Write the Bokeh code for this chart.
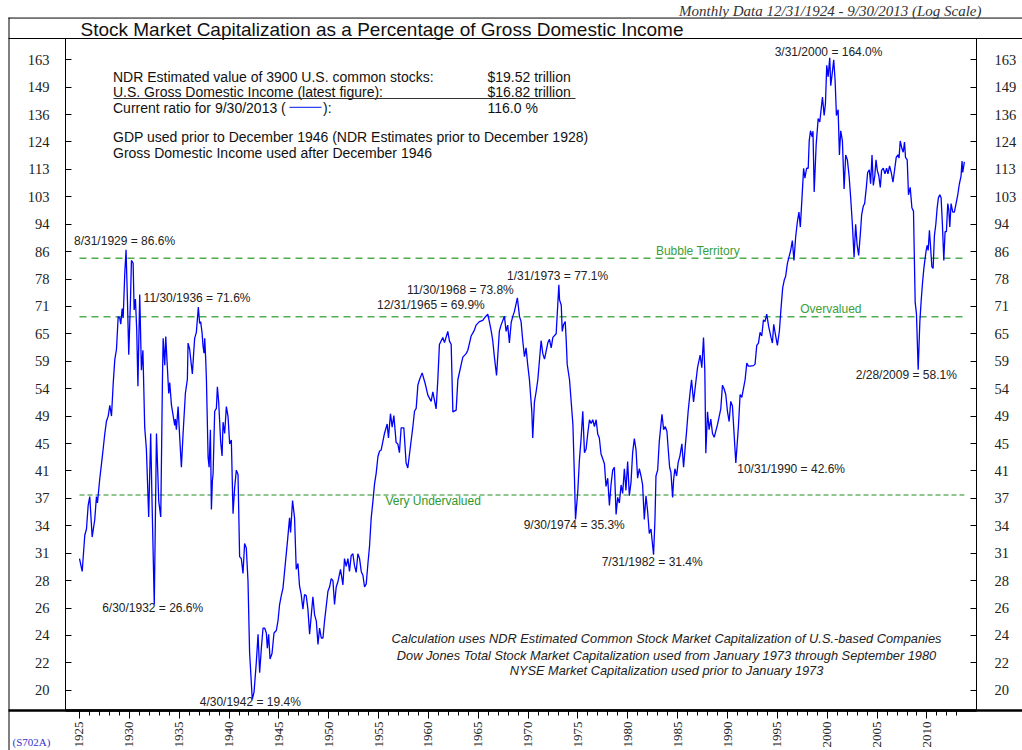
import math
from bokeh.plotting import figure
from bokeh.models import Range1d, LogAxis, FixedTicker, Label, BoxAnnotation, ColumnDataSource
from bokeh.core.properties import value
from bokeh.embed import file_html
from bokeh.resources import INLINE

# ---------------- data ----------------
dates = [
    1925.00, 1925.27, 1925.53, 1925.70, 1925.87, 1926.03, 1926.27, 1926.53, 1926.70, 1926.80,
    1927.03, 1927.20, 1927.37, 1927.54, 1927.71, 1927.88, 1928.04, 1928.21, 1928.38, 1928.54,
    1928.71, 1928.88, 1929.04, 1929.14, 1929.28, 1929.38, 1929.54, 1929.67, 1929.81, 1929.94,
    1930.11, 1930.21, 1930.38, 1930.48, 1930.61, 1930.74, 1930.86, 1931.04, 1931.21, 1931.36,
    1931.54, 1931.71, 1931.94, 1932.14, 1932.28, 1932.50, 1932.72, 1932.95, 1933.15, 1933.32,
    1933.39, 1933.55, 1933.65, 1933.82, 1933.95, 1934.05, 1934.22, 1934.55, 1934.62, 1934.72,
    1934.89, 1935.05, 1935.22, 1935.39, 1935.62, 1935.82, 1935.89, 1936.05, 1936.22, 1936.32,
    1936.45, 1936.55, 1936.72, 1936.92, 1937.05, 1937.15, 1937.29, 1937.39, 1937.49, 1937.56,
    1937.66, 1937.73, 1937.90, 1938.00, 1938.13, 1938.23, 1938.33, 1938.40, 1938.56, 1938.73,
    1938.83, 1938.96, 1939.16, 1939.30, 1939.40, 1939.56, 1939.73, 1939.90, 1940.06, 1940.23,
    1940.40, 1940.56, 1940.73, 1940.90, 1941.06, 1941.23, 1941.40, 1941.56, 1941.73, 1941.90,
    1942.06, 1942.33, 1942.51, 1942.74, 1942.91, 1943.07, 1943.24, 1943.41, 1943.57, 1943.74,
    1943.84, 1943.97, 1944.11, 1944.31, 1944.51, 1944.74, 1944.91, 1945.07, 1945.24, 1945.41,
    1945.57, 1945.84, 1946.07, 1946.17, 1946.37, 1946.57, 1946.74, 1946.91, 1947.07, 1947.24,
    1947.41, 1947.57, 1947.74, 1947.91, 1948.08, 1948.25, 1948.41, 1948.58, 1948.75, 1948.92,
    1949.08, 1949.25, 1949.42, 1949.58, 1949.92, 1950.08, 1950.25, 1950.42, 1950.58, 1950.75,
    1950.92, 1951.18, 1951.42, 1951.58, 1951.75, 1951.92, 1952.08, 1952.25, 1952.42, 1952.58,
    1952.75, 1952.92, 1953.09, 1953.26, 1953.43, 1953.59, 1953.76, 1953.93, 1954.09, 1954.26,
    1954.43, 1954.59, 1954.76, 1954.93, 1955.09, 1955.26, 1955.59, 1955.86, 1955.99, 1956.19,
    1956.36, 1956.53, 1956.76, 1956.93, 1957.09, 1957.26, 1957.53, 1957.76, 1957.93, 1958.10,
    1958.44, 1958.60, 1958.77, 1958.94, 1959.10, 1959.37, 1959.67, 1959.94, 1960.27, 1960.44,
    1960.77, 1960.94, 1961.10, 1961.44, 1961.61, 1961.94, 1962.11, 1962.28, 1962.45, 1962.78,
    1962.95, 1963.28, 1963.45, 1963.78, 1963.95, 1964.28, 1964.61, 1964.78, 1965.11, 1965.45,
    1965.68, 1965.95, 1966.11, 1966.28, 1966.45, 1966.61, 1966.83, 1967.11, 1967.28, 1967.62,
    1967.79, 1967.95, 1968.12, 1968.30, 1968.46, 1968.62, 1968.92, 1969.13, 1969.29, 1969.46,
    1969.63, 1969.79, 1969.96, 1970.13, 1970.37, 1970.46, 1970.63, 1970.80, 1970.97, 1971.30,
    1971.47, 1971.64, 1971.98, 1972.14, 1972.31, 1972.48, 1972.81, 1973.08, 1973.15, 1973.32,
    1973.42, 1973.55, 1973.72, 1973.82, 1973.92, 1974.15, 1974.49, 1974.65, 1974.75, 1974.98,
    1975.14, 1975.31, 1975.48, 1975.65, 1975.81, 1975.98, 1976.15, 1976.32, 1976.48, 1976.65,
    1976.82, 1976.98, 1977.14, 1977.31, 1977.48, 1977.65, 1977.81, 1977.98, 1978.15, 1978.31,
    1978.48, 1978.65, 1978.82, 1978.98, 1979.15, 1979.32, 1979.48, 1979.65, 1979.81, 1979.98,
    1980.15, 1980.32, 1980.48, 1980.65, 1980.82, 1980.98, 1981.15, 1981.32, 1981.48, 1981.65,
    1981.82, 1981.99, 1982.15, 1982.32, 1982.58, 1982.72, 1982.82, 1982.99, 1983.15, 1983.32,
    1983.42, 1983.59, 1983.75, 1983.92, 1984.05, 1984.19, 1984.32, 1984.49, 1984.59, 1984.72,
    1984.89, 1985.05, 1985.22, 1985.42, 1985.59, 1985.75, 1985.89, 1986.05, 1986.25, 1986.39,
    1986.59, 1986.77, 1986.99, 1987.25, 1987.42, 1987.59, 1987.72, 1987.82, 1987.99, 1988.15,
    1988.32, 1988.49, 1988.66, 1988.99, 1989.32, 1989.49, 1989.66, 1989.82, 1989.99, 1990.16,
    1990.32, 1990.49, 1990.83, 1991.09, 1991.26, 1991.43, 1991.59, 1991.76, 1991.93, 1992.09,
    1992.26, 1992.60, 1992.76, 1992.93, 1993.10, 1993.26, 1993.43, 1993.60, 1993.76, 1993.93,
    1994.13, 1994.36, 1994.50, 1994.63, 1994.83, 1995.00, 1995.20, 1995.36, 1995.53, 1995.70,
    1995.83, 1996.00, 1996.16, 1996.33, 1996.50, 1996.66, 1996.83, 1997.00, 1997.16, 1997.30,
    1997.50, 1997.63, 1997.76, 1997.93, 1998.09, 1998.19, 1998.32, 1998.49, 1998.57, 1998.69,
    1998.89, 1999.09, 1999.25, 1999.42, 1999.52, 1999.69, 1999.82, 1999.95, 2000.09, 2000.25,
    2000.35, 2000.49, 2000.65, 2000.79, 2000.92, 2001.09, 2001.22, 2001.35, 2001.52, 2001.69,
    2001.85, 2002.02, 2002.19, 2002.35, 2002.52, 2002.69, 2002.85, 2002.99, 2003.15, 2003.32,
    2003.45, 2003.62, 2003.75, 2003.92, 2004.05, 2004.22, 2004.35, 2004.49, 2004.62, 2004.77,
    2004.89, 2005.02, 2005.17, 2005.32, 2005.45, 2005.62, 2005.79, 2005.95, 2006.09, 2006.25,
    2006.42, 2006.59, 2006.75, 2006.92, 2007.09, 2007.20, 2007.32, 2007.49, 2007.62, 2007.75,
    2007.85, 2008.02, 2008.15, 2008.32, 2008.49, 2008.65, 2008.82, 2008.95, 2009.12, 2009.29,
    2009.42, 2009.55, 2009.69, 2009.79, 2009.92, 2010.02, 2010.12, 2010.25, 2010.35, 2010.49,
    2010.62, 2010.75, 2010.89, 2011.02, 2011.15, 2011.29, 2011.42, 2011.55, 2011.69, 2011.82,
    2011.95, 2012.09, 2012.19, 2012.29, 2012.42, 2012.59, 2012.75, 2012.92, 2013.09, 2013.25,
    2013.42, 2013.52, 2013.59, 2013.75,
]

ratio = [
    31.0, 29.7, 33.5, 34.2, 37.0, 38.1, 33.3, 35.3, 38.1, 37.3,
    40.4, 42.4, 44.6, 47.0, 49.0, 49.8, 51.6, 49.8, 55.5, 60.1,
    62.2, 69.3, 69.0, 67.6, 71.2, 69.0, 80.0, 86.6, 73.1, 61.1,
    73.0, 83.6, 82.8, 70.9, 73.5, 66.3, 55.0, 74.6, 58.0, 62.0,
    48.0, 44.6, 35.6, 47.0, 37.2, 26.6, 47.0, 37.5, 35.6, 56.3,
    64.5, 59.0, 64.9, 58.3, 53.7, 55.7, 51.7, 48.3, 49.3, 47.6,
    51.4, 46.4, 42.0, 47.0, 53.7, 56.3, 63.5, 62.2, 59.0, 57.3,
    61.4, 64.5, 65.8, 71.6, 67.8, 68.2, 65.8, 62.9, 61.4, 64.5,
    60.1, 56.3, 43.4, 42.0, 47.6, 36.5, 40.2, 41.1, 50.6, 51.1,
    54.9, 52.2, 45.7, 43.6, 48.8, 47.0, 51.4, 49.7, 45.4, 46.0,
    36.0, 39.2, 41.6, 41.0, 31.2, 31.0, 29.5, 32.6, 32.1, 28.8,
    22.7, 19.4, 19.9, 22.0, 24.1, 21.2, 23.0, 24.6, 24.6, 24.2,
    23.0, 24.1, 22.2, 22.6, 24.2, 24.4, 25.2, 26.6, 27.4, 28.1,
    29.7, 32.6, 35.5, 33.8, 37.6, 35.5, 29.9, 30.5, 28.3, 27.5,
    26.2, 27.5, 27.4, 26.2, 24.1, 25.7, 27.3, 25.7, 25.2, 23.3,
    24.6, 23.8, 23.8, 25.2, 27.8, 28.2, 29.0, 28.8, 26.6, 28.2,
    28.7, 29.9, 28.4, 31.0, 30.2, 31.0, 29.7, 31.3, 31.5, 30.3,
    29.6, 31.5, 31.0, 29.7, 29.3, 28.2, 28.5, 30.5, 32.3, 35.5,
    37.5, 39.7, 41.2, 43.5, 44.3, 44.5, 47.0, 48.5, 46.3, 50.2,
    48.0, 49.9, 45.6, 45.4, 44.1, 47.9, 47.9, 42.6, 41.9, 43.9,
    48.1, 50.6, 51.1, 55.2, 56.2, 57.5, 55.5, 53.4, 52.3, 54.0,
    51.0, 56.2, 63.2, 64.7, 63.6, 66.0, 63.9, 63.2, 50.5, 50.8,
    56.2, 59.1, 60.6, 61.3, 62.0, 65.0, 66.3, 67.4, 68.2, 68.5,
    69.2, 69.9, 68.2, 66.3, 64.0, 60.7, 57.0, 66.0, 67.4, 69.4,
    66.0, 67.4, 63.5, 68.0, 69.4, 70.5, 73.8, 69.4, 68.2, 64.0,
    60.7, 62.5, 59.0, 56.2, 50.5, 46.3, 52.2, 54.0, 56.2, 64.0,
    61.3, 60.2, 63.6, 64.3, 62.5, 64.7, 65.5, 77.1, 73.3, 72.0,
    66.0, 67.5, 68.2, 64.0, 59.1, 56.2, 48.4, 40.3, 35.3, 38.8,
    43.0, 46.2, 50.6, 44.1, 44.6, 47.0, 49.2, 48.6, 49.2, 48.1,
    49.2, 46.9, 46.3, 43.9, 43.2, 42.5, 39.4, 40.5, 37.0, 39.6,
    41.6, 42.0, 35.9, 38.0, 37.3, 39.6, 38.5, 41.8, 38.9, 42.8,
    38.2, 40.0, 44.1, 46.2, 44.5, 40.5, 41.8, 40.8, 39.6, 35.3,
    38.2, 36.2, 33.7, 34.2, 31.4, 35.3, 40.8, 41.6, 45.7, 48.4,
    50.1, 47.6, 48.1, 47.3, 44.6, 42.0, 41.3, 38.0, 40.3, 41.8,
    40.8, 42.7, 43.6, 45.4, 42.0, 44.9, 47.3, 50.6, 54.0, 56.2,
    52.2, 55.0, 58.5, 61.0, 58.5, 64.7, 58.0, 44.0, 50.5, 47.6,
    49.3, 47.0, 46.4, 48.4, 51.0, 55.2, 54.5, 53.5, 50.6, 48.9,
    52.3, 51.5, 42.6, 48.1, 53.5, 53.0, 54.5, 56.2, 59.4, 58.8,
    58.8, 58.9, 59.2, 63.0, 63.5, 65.8, 65.0, 68.6, 68.2, 69.9,
    67.0, 64.7, 63.5, 67.6, 65.0, 63.0, 66.1, 71.2, 76.3, 78.4,
    79.3, 82.7, 84.5, 86.4, 89.3, 83.6, 90.3, 95.0, 98.2, 93.4,
    105.0, 113.6, 109.9, 113.6, 113.6, 124.4, 128.7, 126.1, 128.5, 105.0,
    123.0, 134.0, 132.5, 139.7, 144.0, 135.4, 141.0, 160.0, 154.0, 164.0,
    149.5, 155.4, 163.0, 152.0, 135.4, 138.0, 118.7, 128.7, 124.4, 106.0,
    118.7, 116.8, 110.8, 103.0, 94.3, 84.5, 94.3, 88.2, 85.0, 91.3,
    97.3, 100.2, 101.0, 106.6, 112.0, 113.0, 107.9, 118.7, 107.3, 110.8,
    116.8, 112.8, 110.8, 106.6, 112.8, 113.6, 111.5, 113.6, 111.5, 114.5,
    112.0, 108.5, 112.8, 117.8, 118.8, 117.5, 124.4, 121.3, 119.8, 123.9,
    117.8, 116.8, 104.0, 106.6, 99.6, 98.5, 72.7, 69.9, 58.1, 68.3,
    73.1, 77.4, 81.4, 83.6, 86.4, 87.9, 86.4, 92.4, 88.0, 81.9,
    81.4, 90.8, 94.3, 99.4, 103.0, 104.0, 103.0, 94.3, 83.6, 92.0,
    92.0, 101.0, 99.0, 93.4, 101.0, 98.2, 98.2, 101.0, 104.0, 107.8,
    110.7, 116.4, 112.0, 116.0,
]

ytick_labels = ["20", "22", "24", "26", "28", "31", "34", "37", "41", "45", "49", "54",
                "59", "65", "71", "78", "86", "94", "103", "113", "124", "136", "149", "163"]
xtick_years = list(range(1925, 2011, 5))
xminor_years = list(range(1925, 2014))

ann_dates = [1929.67, 1936.92, 1932.50, 1942.33, 1965.95, 1968.92,
             1973.08, 1974.75, 1982.58, 1990.83, 2000.25, 2009.12]
ann_values = [86.6, 71.6, 26.6, 19.4, 69.9, 73.8, 77.1, 35.3, 31.4, 42.6, 164.0, 58.1]
ann_texts = ["8/31/1929 = 86.6%", "11/30/1936 = 71.6%", "6/30/1932 = 26.6%",
             "4/30/1942 = 19.4%", "12/31/1965 = 69.9%", "11/30/1968 = 73.8%",
             "1/31/1973 = 77.1%", "9/30/1974 = 35.3%", "7/31/1982 = 31.4%",
             "10/31/1990 = 42.6%", "3/31/2000 = 164.0%", "2/28/2009 = 58.1%"]

level_values = [84.2, 69.3, 38.3]
level_names = ["Bubble Territory", "Overvalued", "Very Undervalued"]

# ---------------- styling / layout ----------------
W, H = 1022, 750
SANS = "Liberation Sans"
SERIF = "Liberation Serif"
FL, FR, FT, FB = 65, 976, 38, 712          # plot frame in page pixels
X0, X1 = 1923.596, 2014.97
Y0, Y1 = 18.698, 174.93

# label placement (pixel offsets from the annotated point, alignment)
ann_style = [(-1.5, -8.4, "center"), (-1.3, -8.8, "center"), (-1.6, 3.5, "center"),
             (-2, 2.6, "center"), (-3, -9.5, "right"), (-3.6, -8.2, "right"),
             (-1.2, -9, "center"), (-1.3, 5.5, "center"), (-1.4, 7.3, "center"),
             (1.4, 6, "left"), (-1.2, -5.7, "center"), (-11.9, 4.8, "center")]

# geometric tick positions of the log axis (evenly spaced on the page)
ypos = [20 * (163 / 20) ** (k / 23) for k in range(24)]


def xd(px):   # page pixel -> data x (for decorations outside the frame)
    return X0 + (px - FL) * (X1 - X0) / (FR - FL)


def yd(py):   # page pixel -> data y on the log scale
    lt, lb = math.log(Y1), math.log(Y0)
    return math.exp(lt - (py - FT) * (lt - lb) / (FB - FT))


p = figure(width=W, height=H, output_backend="svg", toolbar_location=None,
           x_range=Range1d(X0, X1), y_range=Range1d(Y0, Y1),
           y_axis_type="log",
           min_border_left=FL, min_border_right=W - FR, min_border_top=FT, min_border_bottom=H - FB)
p.xgrid.visible = False
p.ygrid.visible = False
p.outline_line_color = "black"
p.outline_line_width = 1
p.background_fill_color = "white"
p.border_fill_color = "white"

# x axis (bottom)
xa = p.xaxis[0]
xa.ticker = FixedTicker(ticks=xtick_years, minor_ticks=xminor_years)
xa.major_label_orientation = math.pi / 2
xa.axis_line_width = 2.5
xa.axis_line_color = "black"
xa.major_tick_in = -8
xa.major_tick_out = 0
xa.minor_tick_in = -5
xa.minor_tick_out = 0
xa.major_tick_line_color = "black"
xa.minor_tick_line_color = "black"
xa.major_label_standoff = 11
xa.major_label_text_font = SERIF
xa.major_label_text_font_size = "13px"
xa.major_label_text_color = "#222222"

overrides = {t: s for t, s in zip(ypos, ytick_labels)}

ya = p.yaxis[0]
ya.ticker = FixedTicker(ticks=ypos)
ya.major_label_overrides = overrides
ya.major_tick_in = 6
ya.major_tick_out = 0
ya.minor_tick_line_color = None
ya.major_label_standoff = 16
ya.major_label_text_font = SERIF
ya.major_label_text_font_size = "14.5px"
ya.major_label_text_color = "#222222"

yr = LogAxis(ticker=FixedTicker(ticks=ypos), major_label_overrides=overrides,
             major_tick_in=6, major_tick_out=0, minor_tick_line_color=None,
             major_label_standoff=18, major_label_text_font=SERIF,
             major_label_text_font_size="14.5px", major_label_text_color="#222222")
p.add_layout(yr, "right")

# valuation levels
lvl_styles = [("#4fae4f", "7 5", 1.6), ("#4fae4f", "7 5", 1.6), ("#1f8a1f", "5 3", 1.2)]
for lv, (col, dash, lw) in zip(level_values, lvl_styles):
    p.line([dates[0], dates[-1]], [lv, lv], line_color=col, line_dash=dash, line_width=lw)

lvl_text_pos = [(1987.03, -6.9, "center"), (2000.36, -7.6, "center"), (1955.69, 6.1, "left")]
lvl_text_col = ["#3a9e3a", "#3a9e3a", "#2e982e"]
for lv, name, (xp, dy, al), col in zip(level_values, level_names, lvl_text_pos, lvl_text_col):
    p.text(x=[xp], y=[lv], text=[name], y_offset=dy, text_align=al, text_baseline="middle",
           text_font=value(SANS), text_font_size="12px", text_color=col)

# series
p.line(dates, ratio, line_color="#0000ff", line_width=1.3)

# point annotations
for al in ("center", "right", "left"):
    idx = [i for i, s in enumerate(ann_style) if s[2] == al]
    src = ColumnDataSource(dict(x=[ann_dates[i] for i in idx], y=[ann_values[i] for i in idx],
                                text=[ann_texts[i] for i in idx],
                                dx=[ann_style[i][0] for i in idx], dy=[ann_style[i][1] for i in idx]))
    p.text(x="x", y="y", text="text", x_offset="dx", y_offset="dy", source=src,
           text_align=al, text_baseline="middle", text_font=value(SANS),
           text_font_size="12px", text_color="#222222", level="overlay")

# ---------------- frame rules & header (drawn unclipped at overlay level) ----------------
def rule(px0, py0, px1, py1, lw=1.0):
    p.segment(x0=[xd(px0)], y0=[yd(py0)], x1=[xd(px1)], y1=[yd(py1)],
              line_color="black", line_width=lw, level="overlay")

rule(8.5, 17, 8.5, 760)        # left rule
rule(8, 17.5, 1040, 17.5)      # top rule
rule(8, 38, 1040, 38)          # header rule
rule(8, 712, 1040, 712, 2.5)   # bottom rule


def page_text(px, py, text, font=SANS, size="14px", style="normal", align="left", color="#111111"):
    p.text(x=[xd(px)], y=[yd(py)], text=[text], text_font=value(font), text_font_size=size,
           text_font_style=style, text_align=align, text_baseline="middle",
           text_color=color, level="overlay")

page_text(80, 28.5, "Stock Market Capitalization as a Percentage of Gross Domestic Income", size="19px")
page_text(981, 10, "Monthly Data 12/31/1924 - 9/30/2013 (Log Scale)", font=SERIF, size="15px",
          style="italic", align="right", color="#333333")
page_text(12, 744, "(S702A)", font=SERIF, size="11px", color="#3333cc")


# ---------------- in-frame notes ----------------
def cbox(left, right, top, bottom, **kw):
    b = BoxAnnotation(left=left, right=right, top=top, bottom=bottom,
                      left_units="canvas", right_units="canvas",
                      top_units="canvas", bottom_units="canvas", level="overlay", **kw)
    p.add_layout(b)

cbox(113, 575, 97.5, 98.5, fill_color="#333333", fill_alpha=1, line_color=None)   # underline
cbox(289, 321, 106.2, 107.5, fill_color="#3344ee", fill_alpha=1, line_color=None)  # legend swatch


def clabel(x, y, text, font=SANS, size="14px", style="normal", align="left", color="#111111"):
    p.add_layout(Label(x=x, y=y, x_units="canvas", y_units="canvas", text=text,
                       text_font=font, text_font_size=size, text_font_style=style,
                       text_align=align, text_baseline="middle", text_color=color))

clabel(112.5, 76, "NDR Estimated value of 3900 U.S. common stocks:")
clabel(487, 76, "$19.52 trillion")
clabel(112.5, 91.5, "U.S. Gross Domestic Income (latest figure):")
clabel(487, 91.5, "$16.82 trillion")
clabel(112.5, 107, "Current ratio for 9/30/2013 (")
clabel(322.5, 107, "):")
clabel(487, 107, "116.0 %")
clabel(112.5, 136.5, "GDP used prior to December 1946 (NDR Estimates prior to December 1928)")
clabel(112.5, 152, "Gross Domestic Income used after December 1946")

clabel(666, 638, "Calculation uses NDR Estimated Common Stock Market Capitalization of U.S.-based Companies",
       size="12.8px", style="italic", align="center", color="#222222")
clabel(666, 654.5, "Dow Jones Total Stock Market Capitalization used from January 1973 through September 1980",
       size="12.8px", style="italic", align="center", color="#222222")
clabel(666, 669.5, "NYSE Market Capitalization used prior to January 1973",
       size="12.8px", style="italic", align="center", color="#222222")

open("out.html", "w").write(file_html(p, INLINE))
